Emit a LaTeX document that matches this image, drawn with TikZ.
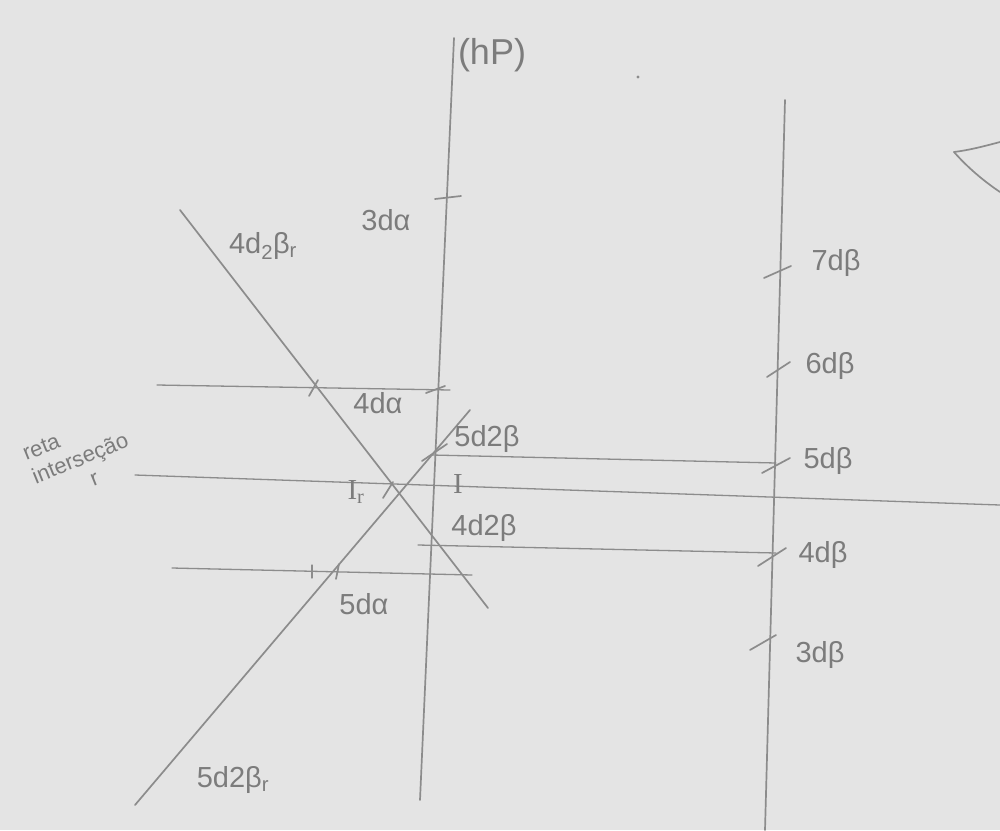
\documentclass[tikz,border=0pt]{standalone}
\usepackage{fontspec}
\setmainfont{Liberation Sans}
\newfontfamily\serifI{Liberation Serif}
\begin{document}
\begin{tikzpicture}[x=1pt,y=-1pt,
  pencil/.style={draw=pencilc,line width=1.7pt,line cap=round},
  thin pencil/.style={draw=pencilc,line width=1.3pt,line cap=round},
  lbl/.style={text=textc,font=\fontsize{29}{31}\selectfont,inner sep=0pt},
  small lbl/.style={text=textc,font=\fontsize{22}{24}\selectfont,inner sep=0pt}]
\definecolor{pencilc}{HTML}{8C8C8C}
\definecolor{textc}{HTML}{7C7C7C}
\definecolor{paper}{HTML}{E4E4E4}
\fill[paper] (0,0) rectangle (1000,830);
\useasboundingbox (0,0) rectangle (1000,830);

% vertical lines
\coordinate (v1t) at (454,38);
\coordinate (v1b) at (420,800);
\coordinate (v2t) at (785,100);
\coordinate (v2b) at (765,830);
\draw[pencil] (v1t) -- (v1b);
\draw[pencil] (v2t) -- (v2b);

% diagonals
\coordinate (d1a) at (180,210);
\coordinate (d1b) at (488,608);
\coordinate (d2a) at (135,805);
\coordinate (d2b) at (470,410);
\draw[pencil] (d1a) -- (d1b);
\draw[pencil] (d2a) -- (d2b);

% horizontals
\coordinate (h1a) at (157,385); \coordinate (h1b) at (450,390);
\coordinate (h2a) at (432,455); \coordinate (h2b) at (776,463);
\coordinate (ra) at (135,475);  \coordinate (rb) at (1000,505);
\coordinate (h3a) at (418,545); \coordinate (h3b) at (776,553);
\coordinate (h4a) at (172,568); \coordinate (h4b) at (472,575);
\draw[thin pencil] (h1a) -- (h1b);
\draw[thin pencil] (h2a) -- (h2b);
\draw[thin pencil] (ra) -- (rb);
\draw[thin pencil] (h3a) -- (h3b);
\draw[thin pencil] (h4a) -- (h4b);

% ticks on first vertical and horizontals
\coordinate (t3a) at (435,199); \coordinate (t3b) at (461,196);
\draw[pencil] (t3a) -- (t3b);
\coordinate (t4a) at (309,396); \coordinate (t4b) at (318,380);
\draw[pencil] (t4a) -- (t4b);
\coordinate (t4c) at (426,393); \coordinate (t4d) at (445,386);
\draw[pencil] (t4c) -- (t4d);
\coordinate (t5a) at (422,461); \coordinate (t5b) at (447,444);
\draw[pencil] (t5a) -- (t5b);
\coordinate (tia) at (383,498); \coordinate (tib) at (393,482);
\draw[pencil] (tia) -- (tib);
\coordinate (t6a) at (312,565); \coordinate (t6b) at (312,578);
\draw[thin pencil] (t6a) -- (t6b);
\coordinate (t7a) at (336,579); \coordinate (t7b) at (339,564);
\draw[pencil] (t7a) -- (t7b);

% ticks on second vertical
\coordinate (s7a) at (764,278); \coordinate (s7b) at (791,266);
\coordinate (s6a) at (767,377); \coordinate (s6b) at (790,362);
\coordinate (s5a) at (762,473); \coordinate (s5b) at (790,458);
\coordinate (s4a) at (758,566); \coordinate (s4b) at (786,548);
\coordinate (s3a) at (750,650); \coordinate (s3b) at (776,635);
\foreach \k in {7,6,5,4,3} {\draw[pencil] (s\k a) -- (s\k b);}

% partial shape top right
\coordinate (pa) at (954,152);
\coordinate (pb) at (1000,142);
\coordinate (pc) at (1000,192);
\draw[pencil] (pa) .. controls (970,150) and (985,146) .. (pb);
\draw[pencil] (pa) .. controls (968,168) and (985,182) .. (pc);

% small dot
\fill[pencilc] (638,77) circle (1.6);

% labels
\node[lbl,font=\fontsize{36}{38}\selectfont] (hp) at (492,55) {(hP)};
\node[lbl] (l3da) at (386,220) {3dα};
\node[lbl] (l4d2br) at (263,246) {4d\textsubscript{2}β\textsubscript{r}};
\node[lbl] (l4da) at (378,403) {4dα};
\node[lbl] (l5d2b) at (487,439) {5d2β};
\node[lbl] (lI) at (458,484) {\serifI I};
\node[lbl] (lIr) at (356,492) {\serifI I\textsubscript{r}};
\node[lbl] (l4d2b) at (484,528) {4d2β};
\node[lbl] (l5da) at (364,604) {5dα};
\node[lbl] (l5d2br) at (233,780) {5d2β\textsubscript{r}};
\node[lbl] (l7db) at (836,263) {7dβ};
\node[lbl] (l6db) at (830,366) {6dβ};
\node[lbl] (l5db) at (828,461) {5dβ};
\node[lbl] (l4db) at (823,555) {4dβ};
\node[lbl] (l3db) at (820,655) {3dβ};
\node[small lbl,rotate=22,align=left] (lreta) at (80,458)
  {reta\\[1pt]interseção\\[0pt]\hspace{2.4em}r};
\end{tikzpicture}
\end{document}
